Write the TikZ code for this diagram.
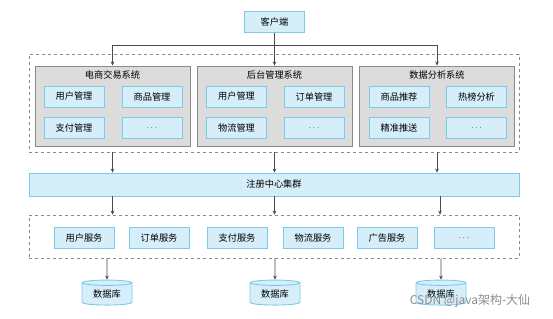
\documentclass[tikz,border=0pt]{standalone}
\usepackage{fontspec}
\newfontfamily\cjk{Noto Sans CJK SC}
\usetikzlibrary{positioning,arrows.meta,shapes.geometric,calc}
\definecolor{boxfill}{HTML}{D5EEF9}
\definecolor{boxline}{HTML}{7CCBEA}
\definecolor{sysfill}{HTML}{DCDCDC}
\definecolor{sysline}{HTML}{8A8A8A}
\definecolor{wire}{HTML}{4A4A4A}
\tikzset{
  >={Stealth[length=4pt,width=3.6pt]},
  every node/.style={font=\cjk\fontsize{9.2}{11}\selectfont},
  bluebox/.style={draw=boxline,fill=boxfill,line width=0.9pt,
    minimum width=60pt,minimum height=21pt,inner sep=1pt},
  sysbox/.style={draw=sysline,fill=sysfill,line width=0.9pt,
    minimum width=155pt,minimum height=80pt},
  systitle/.style={inner sep=1pt},
  dashbox/.style={draw=sysline,dashed,line width=0.7pt,
    minimum width=490pt,inner sep=0pt},
  dbnode/.style={cylinder,shape border rotate=90,aspect=0.18,
    draw=boxline,fill=boxfill,line width=0.9pt,
    minimum width=50pt,minimum height=25pt,inner sep=1pt},
  link/.style={->,draw=wire,line width=0.6pt},
}
\begin{document}
\begin{tikzpicture}[x=1pt,y=-1pt]
  \useasboundingbox (0,0) rectangle (553,318);
  % client
  \node[bluebox] (client) at (274.5,22) {客户端};
  % systems
  \node[dashbox,minimum height=98pt] (upper) at (274,103) {};
  \node[sysbox] (sys1) at (112.5,106) {};
  \node[sysbox] (sys2) at (274.5,106) {};
  \node[sysbox] (sys3) at (437,106) {};
  \node[systitle,below=4pt of sys1.north] (t1) {电商交易系统};
  \node[systitle,below=4pt of sys2.north] (t2) {后台管理系统};
  \node[systitle,below=4pt of sys3.north] (t3) {数据分析系统};
  \node[bluebox] (a1) at (74,96.5) {用户管理};
  \node[bluebox] (a2) at (152,96.5) {商品管理};
  \node[bluebox] (a3) at (74,128) {支付管理};
  \node[bluebox] (a4) at (152,128) {$\cdots$};
  \node[bluebox] (b1) at (236.5,96.5) {用户管理};
  \node[bluebox] (b2) at (314,96.5) {订单管理};
  \node[bluebox] (b3) at (236.5,128) {物流管理};
  \node[bluebox] (b4) at (314,128) {$\cdots$};
  \node[bluebox] (c1) at (399,96.5) {商品推荐};
  \node[bluebox] (c2) at (476.5,96.5) {热榜分析};
  \node[bluebox] (c3) at (399,128) {精准推送};
  \node[bluebox] (c4) at (476.5,128) {$\cdots$};
  % registry
  \node[bluebox,minimum width=490pt,minimum height=23pt] (reg) at (274,184.5) {注册中心集群};
  % services
  \node[dashbox,minimum height=43pt] (lower) at (274,236.5) {};
  \node[bluebox] (s1) at (84,238) {用户服务};
  \node[bluebox] (s2) at (159,238) {订单服务};
  \node[bluebox] (s3) at (237,238) {支付服务};
  \node[bluebox] (s4) at (313,238) {物流服务};
  \node[bluebox] (s5) at (387,238) {广告服务};
  \node[bluebox] (s6) at (464,238) {$\cdots$};
  % databases
  \node[dbnode] (db1) at (107,294.5) {数据库};
  \node[dbnode] (db2) at (275,294.5) {数据库};
  \node[dbnode] (db3) at (441,294.5) {数据库};
  % connectors
  \coordinate (split) at (274.5,45);
  \draw[draw=wire,line width=0.6pt] (client) -- (split);
  \draw[link] (split) -| (sys1);
  \draw[link] (split) -- (sys2);
  \draw[link] (split) -| (sys3);
  \draw[link] (sys1.south |- upper.south) -- (sys1.south |- reg.north);
  \draw[link] (sys2.south |- upper.south) -- (sys2.south |- reg.north);
  \draw[link] (sys3.south |- upper.south) -- (sys3.south |- reg.north);
  \draw[link] (sys1.south |- reg.south) -- (sys1.south |- lower.north);
  \draw[link] (sys2.south |- reg.south) -- (sys2.south |- lower.north);
  \draw[link] ($(sys3.south |- reg.south)+(3,0)$) -- ($(sys3.south |- lower.north)+(3,0)$);
  \draw[link] (db1 |- lower.south) -- (db1);
  \draw[link] (db2 |- lower.south) -- (db2);
  \draw[link] (db3 |- lower.south) -- (db3);
  % watermark
  \node[text=black!45,font=\cjk\fontsize{12}{14}\selectfont,inner sep=0pt] (mark) at (470,301) {CSDN @java架构-大仙};
\end{tikzpicture}
\end{document}
